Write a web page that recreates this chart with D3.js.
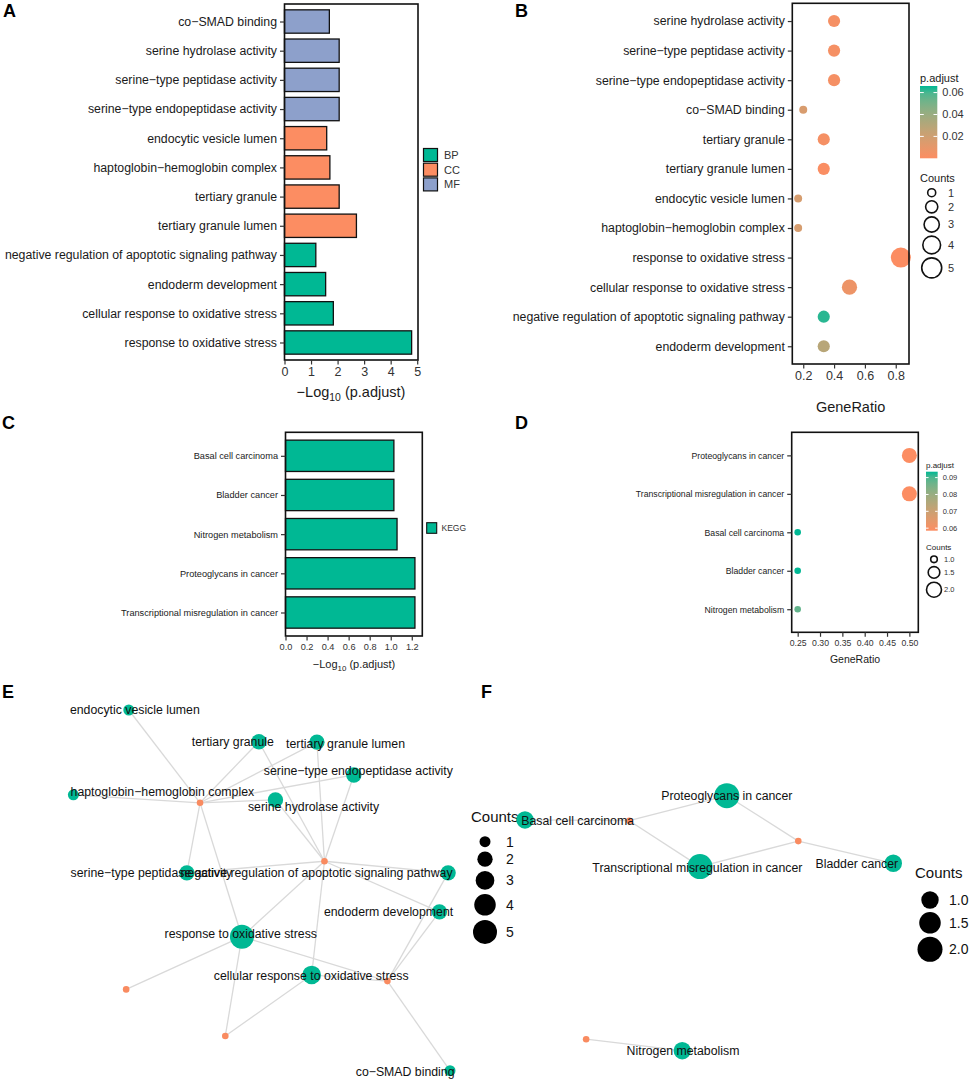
<!DOCTYPE html>
<html>
<head>
<meta charset="utf-8">
<script src="https://cdn.jsdelivr.net/npm/d3@7"></script>
<style>
  body { margin: 0; background: #fff; }
  text { font-family: "Liberation Sans", Arial, sans-serif; }
</style>
</head>
<body>
<svg id="fig" width="969" height="1081"></svg>
<script>
// ---------- dados ----------
// Painel A: barras GO (de cima para baixo)
const goTerms = ["co\u2212SMAD binding", "serine hydrolase activity", "serine\u2212type peptidase activity",
  "serine\u2212type endopeptidase activity", "endocytic vesicle lumen", "haptoglobin\u2212hemoglobin complex",
  "tertiary granule", "tertiary granule lumen", "negative regulation of apoptotic signaling pathway",
  "endoderm development", "cellular response to oxidative stress", "response to oxidative stress"];
const goLogP = [1.69, 2.06, 2.06, 2.06, 1.59, 1.71, 2.06, 2.71, 1.18, 1.55, 1.84, 4.79];
const goOntology = ["MF", "MF", "MF", "MF", "CC", "CC", "CC", "CC", "BP", "BP", "BP", "BP"];
const ontologies = ["BP", "CC", "MF"];

// Painel B: bolhas GO
const bTerms = ["serine hydrolase activity", "serine\u2212type peptidase activity", "serine\u2212type endopeptidase activity",
  "co\u2212SMAD binding", "tertiary granule", "tertiary granule lumen", "endocytic vesicle lumen",
  "haptoglobin\u2212hemoglobin complex", "response to oxidative stress", "cellular response to oxidative stress",
  "negative regulation of apoptotic signaling pathway", "endoderm development"];
const bRatio = [0.4, 0.4, 0.4, 0.2, 0.333, 0.333, 0.167, 0.167, 0.833, 0.5, 0.333, 0.333];
const bCount = [2, 2, 2, 1, 2, 2, 1, 1, 5, 3, 2, 2];
const bPadj = [0.003, 0.003, 0.003, 0.016, 0.003, 0.001, 0.017, 0.017, 0.00002, 0.007, 0.064, 0.029];
const bColorTicks = [0.02, 0.04, 0.06];
const bCountTicks = [1, 2, 3, 4, 5];

// Painel C: barras KEGG
const cTerms = ["Basal cell carcinoma", "Bladder cancer", "Nitrogen metabolism",
  "Proteoglycans in cancer", "Transcriptional misregulation in cancer"];
const cLogP = [1.03, 1.03, 1.06, 1.23, 1.23];

// Painel D: bolhas KEGG
const dTerms = ["Proteoglycans in cancer", "Transcriptional misregulation in cancer",
  "Basal cell carcinoma", "Bladder cancer", "Nitrogen metabolism"];
const dRatio = [0.5, 0.5, 0.25, 0.25, 0.25];
const dCount = [2, 2, 1, 1, 1];
const dPadj = [0.0585, 0.0585, 0.0935, 0.0935, 0.0877];
const dColorTicks = [0.06, 0.07, 0.08, 0.09];
const dCountTicks = [1.0, 1.5, 2.0];

// Painel E: rede GO (coordenadas do layout, unidades 0-10)
const eTerms = ["endocytic vesicle lumen", "tertiary granule", "tertiary granule lumen",
  "serine\u2212type endopeptidase activity", "haptoglobin\u2212hemoglobin complex", "serine hydrolase activity",
  "serine\u2212type peptidase activity", "negative regulation of apoptotic signaling pathway",
  "endoderm development", "response to oxidative stress", "cellular response to oxidative stress", "co\u2212SMAD binding"];
const eTermX = [1.48, 4.93, 6.47, 7.45, 0.01, 5.37, 3.02, 9.95, 9.72, 4.48, 6.33, 10.0];
const eTermY = [10.0, 9.12, 9.11, 8.20, 7.65, 7.51, 5.49, 5.49, 4.41, 3.72, 2.66, 0.01];
const eTermCount = [1, 2, 2, 2, 1, 2, 2, 2, 2, 5, 3, 1];
const eLabelX = [1.64, 4.24, 7.23, 7.57, 2.37, 6.38, 2.08, 6.46, 8.37, 4.45, 6.32, 8.81];
const eLabelY = [10.0, 9.12, 9.08, 8.31, 7.73, 7.32, 5.48, 5.48, 4.40, 3.81, 2.64, -0.02];
const eGeneX = [3.37, 6.67, 1.41, 4.04, 8.34];
const eGeneY = [7.43, 5.81, 2.26, 0.97, 2.49];
const eEdges = [[0, 0], [1, 0], [1, 1], [2, 0], [2, 1], [3, 0], [3, 1], [4, 0], [5, 0], [5, 1],
  [6, 0], [6, 1], [7, 1], [7, 4], [8, 1], [8, 4], [9, 0], [9, 1], [9, 2], [9, 3], [9, 4],
  [10, 1], [10, 3], [10, 4], [11, 4]];
const eCountTicks = [1, 2, 3, 4, 5];

// Painel F: rede KEGG
const fTerms = ["Proteoglycans in cancer", "Basal cell carcinoma", "Transcriptional misregulation in cancer",
  "Bladder cancer", "Nitrogen metabolism"];
const fTermX = [5.48, 0.0, 4.75, 10.0, 4.27];
const fTermY = [10.0, 9.05, 7.22, 7.35, 0.0];
const fTermCount = [2, 1, 2, 1, 1];
const fLabelX = [5.48, 1.43, 4.68, 9.01, 4.29];
const fLabelY = [9.99, 9.02, 7.19, 7.32, -0.01];
const fGeneX = [2.83, 7.42, 1.66];
const fGeneY = [9.02, 8.22, 0.45];
const fEdges = [[0, 0], [0, 1], [1, 0], [2, 0], [2, 1], [3, 1], [4, 2]];
const fCountTicks = [1.0, 1.5, 2.0];

// ---------- estilos ----------
const ORANGE = "#FC8D62", TEAL = "#00B894", BLUE = "#8DA0CB";
const ontColor = d3.scaleOrdinal().domain(ontologies).range([TEAL, ORANGE, BLUE]);

const svg = d3.select("#fig");
svg.append("rect").attr("width", 969).attr("height", 1081).attr("fill", "#fff");
const defs = svg.append("defs");

function panelLetter(t, x, y) {
  svg.append("text").attr("x", x).attr("y", y).attr("font-size", 18)
    .attr("font-weight", "bold").attr("fill", "#000").text(t);
}

// eixo y com rótulos categóricos
function yAxis(y, x0, fs) {
  const g = svg.append("g").attr("transform", `translate(${x0},0)`)
    .call(d3.axisLeft(y).tickSize(4.5).tickPadding(3));
  g.select(".domain").remove();
  g.selectAll(".tick line").attr("stroke", "#333").attr("stroke-width", 1.2);
  g.selectAll(".tick text").attr("font-size", fs).attr("fill", "#1a1a1a")
    .attr("font-family", "'Liberation Sans', Arial, sans-serif");
}

function xAxis(x, y0, ticks, fmt, fs) {
  const g = svg.append("g").attr("transform", `translate(0,${y0})`)
    .call(d3.axisBottom(x).tickValues(ticks).tickFormat(fmt).tickSize(4.5).tickPadding(3));
  g.select(".domain").remove();
  g.selectAll(".tick line").attr("stroke", "#333").attr("stroke-width", 1.2);
  g.selectAll(".tick text").attr("font-size", fs).attr("fill", "#333")
    .attr("font-family", "'Liberation Sans', Arial, sans-serif");
}

function frame(x, y) {
  const [x0, x1] = x.range(), [y0, y1] = y.range();
  svg.append("rect").attr("x", x0).attr("y", y0).attr("width", x1 - x0).attr("height", y1 - y0)
    .attr("fill", "none").attr("stroke", "#111").attr("stroke-width", 1.6);
}

function logTitle(cx, cy, fs) {
  const t = svg.append("text").attr("x", cx).attr("y", cy).attr("text-anchor", "middle")
    .attr("font-size", fs).attr("fill", "#1a1a1a");
  t.append("tspan").text("\u2212Log");
  t.append("tspan").attr("font-size", fs * 0.72).attr("dy", fs * 0.3).text("10");
  t.append("tspan").attr("dy", -fs * 0.3).text(" (p.adjust)");
}

function colorBar(id, color, x, y0, y1, w, ticks, fmt, fs) {
  const dom = color.domain();
  const grad = defs.append("linearGradient").attr("id", id)
    .attr("x1", 0).attr("y1", 1).attr("x2", 0).attr("y2", 0);
  d3.range(0, 1.0001, 0.1).forEach(t => {
    grad.append("stop").attr("offset", t).attr("stop-color", color(dom[0] + t * (dom[1] - dom[0])));
  });
  svg.append("rect").attr("x", x).attr("y", y1).attr("width", w).attr("height", y0 - y1)
    .attr("fill", `url(#${id})`);
  const cy = d3.scaleLinear().domain(dom).range([y0, y1]);
  ticks.forEach(v => {
    svg.append("line").attr("x1", x).attr("x2", x + w * 0.22).attr("y1", cy(v)).attr("y2", cy(v))
      .attr("stroke", "#fff").attr("stroke-width", 1);
    svg.append("line").attr("x1", x + w * 0.78).attr("x2", x + w).attr("y1", cy(v)).attr("y2", cy(v))
      .attr("stroke", "#fff").attr("stroke-width", 1);
    svg.append("text").attr("x", x + w + 5).attr("y", cy(v)).attr("dy", "0.35em")
      .attr("font-size", fs).attr("fill", "#333").text(fmt(v));
  });
}

function sizeLegend(r, ticks, cx, y0, gap, lx, fs, fill, stroke, fmt) {
  let y = y0;
  ticks.forEach((v, i) => {
    if (i > 0) y += r(ticks[i - 1]) + r(v) + gap;
    svg.append("circle").attr("cx", cx).attr("cy", y).attr("r", r(v))
      .attr("fill", fill).attr("stroke", stroke).attr("stroke-width", stroke === "none" ? 0 : 1.6);
    svg.append("text").attr("x", lx).attr("y", y).attr("dy", "0.35em")
      .attr("font-size", fs).attr("fill", fill === "none" ? "#333" : "#111").text(fmt(v));
  });
}

// ---------- Painel A ----------
panelLetter("A", 3, 17);
{
  const y = d3.scalePoint().domain(goTerms).range([4, 360]).padding(0.6);
  const x = d3.scaleLinear().domain([0, 5.03]).range([284.5, 418]);
  const bh = y.step() * 0.8;
  svg.append("g").selectAll("rect").data(goTerms).enter().append("rect")
    .attr("x", x(0)).attr("y", d => y(d) - bh / 2)
    .attr("width", (d, i) => x(goLogP[i]) - x(0)).attr("height", bh)
    .attr("fill", (d, i) => ontColor(goOntology[i]))
    .attr("stroke", "#111").attr("stroke-width", 1.3);
  frame(x, y);
  yAxis(y, x.range()[0], 12.3);
  xAxis(x, 360, [0, 1, 2, 3, 4, 5], d3.format("d"), 12.5);
  logTitle(351, 397, 14.5);
  ontologies.forEach((o, i) => {
    svg.append("rect").attr("x", 423.5).attr("y", 148.5 + i * 14.7).attr("width", 14).attr("height", 13)
      .attr("fill", ontColor(o)).attr("stroke", "#111").attr("stroke-width", 1.2);
    svg.append("text").attr("x", 444).attr("y", 155 + i * 14.7).attr("dy", "0.35em")
      .attr("font-size", 11).attr("fill", "#333").text(o);
  });
}

// ---------- Painel B ----------
panelLetter("B", 515, 17);
{
  const y = d3.scalePoint().domain(bTerms).range([3.3, 364]).padding(0.6);
  const x = d3.scaleLinear().domain([0.129, 0.886]).range([792.3, 909]);
  const r = d3.scaleRadial().domain([1, 5]).range([4, 10]);
  const color = d3.scaleLinear().domain([0.000016, 0.066]).range([ORANGE, TEAL]).interpolate(d3.interpolateLab);
  svg.append("g").selectAll("circle").data(bTerms).enter().append("circle")
    .attr("cx", (d, i) => x(bRatio[i])).attr("cy", d => y(d))
    .attr("r", (d, i) => r(bCount[i])).attr("fill", (d, i) => color(bPadj[i]));
  frame(x, y);
  yAxis(y, x.range()[0], 12.3);
  xAxis(x, 364, [0.2, 0.4, 0.6, 0.8], d3.format(".1f"), 12.5);
  svg.append("text").attr("x", 850.6).attr("y", 412).attr("text-anchor", "middle")
    .attr("font-size", 14.5).attr("fill", "#1a1a1a").text("GeneRatio");
  svg.append("text").attr("x", 920).attr("y", 82).attr("font-size", 11).attr("fill", "#1a1a1a").text("p.adjust");
  colorBar("gradB", color, 920, 158.3, 86, 17.3, bColorTicks, d3.format(".2f"), 11);
  svg.append("text").attr("x", 920).attr("y", 182).attr("font-size", 11).attr("fill", "#1a1a1a").text("Counts");
  sizeLegend(r, bCountTicks, 931.7, 192.7, 4, 948, 11, "none", "#111", d3.format("d"));
}

// ---------- Painel C ----------
panelLetter("C", 2, 429);
{
  const y = d3.scalePoint().domain(cTerms).range([432.3, 636]).padding(0.6);
  const x = d3.scaleLinear().domain([0, 1.3]).range([285.5, 422.3]);
  const bh = y.step() * 0.8;
  svg.append("g").selectAll("rect").data(cTerms).enter().append("rect")
    .attr("x", x(0)).attr("y", d => y(d) - bh / 2)
    .attr("width", (d, i) => x(cLogP[i]) - x(0)).attr("height", bh)
    .attr("fill", TEAL).attr("stroke", "#111").attr("stroke-width", 1.3);
  frame(x, y);
  yAxis(y, x.range()[0], 9.2);
  xAxis(x, 636, [0, 0.2, 0.4, 0.6, 0.8, 1.0, 1.2], d3.format(".1f"), 9.2);
  logTitle(354, 668, 11);
  svg.append("rect").attr("x", 426.7).attr("y", 522.7).attr("width", 10).attr("height", 10.6)
    .attr("fill", TEAL).attr("stroke", "#111").attr("stroke-width", 1.1);
  svg.append("text").attr("x", 441.5).attr("y", 528).attr("dy", "0.35em")
    .attr("font-size", 8.5).attr("fill", "#333").text("KEGG");
}

// ---------- Painel D ----------
panelLetter("D", 515, 429);
{
  const y = d3.scalePoint().domain(dTerms).range([432.3, 632.3]).padding(0.6);
  const x = d3.scaleLinear().domain([0.2366, 0.520]).range([791.7, 918.3]);
  const r = d3.scaleRadial().domain([1, 2]).range([3.3, 7.5]);
  const color = d3.scaleLinear().domain([0.0585, 0.0935]).range([ORANGE, TEAL]).interpolate(d3.interpolateLab);
  svg.append("g").selectAll("circle").data(dTerms).enter().append("circle")
    .attr("cx", (d, i) => x(dRatio[i])).attr("cy", d => y(d))
    .attr("r", (d, i) => r(dCount[i])).attr("fill", (d, i) => color(dPadj[i]));
  frame(x, y);
  yAxis(y, x.range()[0], 8.7);
  xAxis(x, 632.3, [0.25, 0.30, 0.35, 0.40, 0.45, 0.50], d3.format(".2f"), 8.7);
  svg.append("text").attr("x", 855).attr("y", 663).attr("text-anchor", "middle")
    .attr("font-size", 10.5).attr("fill", "#1a1a1a").text("GeneRatio");
  svg.append("text").attr("x", 926).attr("y", 468).attr("font-size", 8).attr("fill", "#1a1a1a").text("p.adjust");
  colorBar("gradD", color, 926, 530.7, 471.7, 11.7, dColorTicks, d3.format(".2f"), 7.5);
  svg.append("text").attr("x", 926).attr("y", 549.5).attr("font-size", 8).attr("fill", "#1a1a1a").text("Counts");
  sizeLegend(r, dCountTicks, 934, 559.3, 4, 944, 7.5, "none", "#111", d3.format(".1f"));
}

// ---------- rede ----------
function network(terms, tx, ty, tc, lx, ly, gx, gy, edges, xs, ys, r) {
  const g = svg.append("g");
  g.selectAll("line").data(edges).enter().append("line")
    .attr("x1", d => xs(tx[d[0]])).attr("y1", d => ys(ty[d[0]]))
    .attr("x2", d => xs(gx[d[1]])).attr("y2", d => ys(gy[d[1]]))
    .attr("stroke", "#d9d9d9").attr("stroke-width", 1.3);
  g.selectAll("circle.gene").data(gx).enter().append("circle").attr("class", "gene")
    .attr("cx", (d, i) => xs(gx[i])).attr("cy", (d, i) => ys(gy[i])).attr("r", 3.3)
    .attr("fill", "#F98B60");
  g.selectAll("circle.term").data(terms).enter().append("circle").attr("class", "term")
    .attr("cx", (d, i) => xs(tx[i])).attr("cy", (d, i) => ys(ty[i]))
    .attr("r", (d, i) => r(tc[i])).attr("fill", TEAL);
  g.selectAll("text").data(terms).enter().append("text")
    .attr("x", (d, i) => xs(lx[i])).attr("y", (d, i) => ys(ly[i])).attr("dy", "0.35em")
    .attr("text-anchor", "middle").attr("font-size", 12.3).attr("fill", "#111").text(d => d);
}

// ---------- Painel E ----------
panelLetter("E", 2, 698);
{
  const xs = d3.scaleLinear().domain([0, 10]).range([73, 450]);
  const ys = d3.scaleLinear().domain([0, 10]).range([1071, 710]);
  const r = d3.scaleRadial().domain([1, 5]).range([5.5, 12]);
  network(eTerms, eTermX, eTermY, eTermCount, eLabelX, eLabelY, eGeneX, eGeneY, eEdges, xs, ys, r);
  svg.append("text").attr("x", 471).attr("y", 822).attr("font-size", 15).attr("fill", "#111").text("Counts");
  sizeLegend(r, eCountTicks, 485, 841.7, 4.3, 506, 14, "#000", "none", d3.format("d"));
}

// ---------- Painel F ----------
panelLetter("F", 481, 698);
{
  const xs = d3.scaleLinear().domain([0, 10]).range([525, 893.3]);
  const ys = d3.scaleLinear().domain([0, 10]).range([1050.7, 795.7]);
  const r = d3.scaleRadial().domain([1, 2]).range([8.7, 12.5]);
  network(fTerms, fTermX, fTermY, fTermCount, fLabelX, fLabelY, fGeneX, fGeneY, fEdges, xs, ys, r);
  svg.append("text").attr("x", 915).attr("y", 878).attr("font-size", 15).attr("fill", "#111").text("Counts");
  sizeLegend(r, fCountTicks, 930, 900, 3.3, 949, 14, "#000", "none", d3.format(".1f"));
}
</script>
</body>
</html>
